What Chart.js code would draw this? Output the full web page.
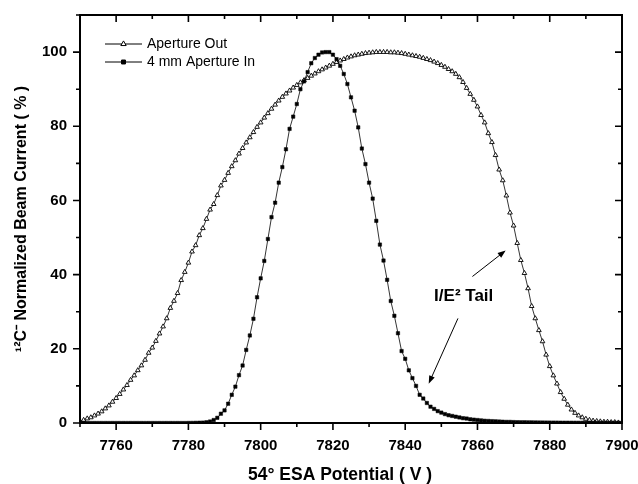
<!DOCTYPE html>
<html><head><meta charset="utf-8">
<script src="https://cdn.jsdelivr.net/npm/chart.js@4/dist/chart.umd.min.js"></script>
<style>html,body{margin:0;padding:0;background:#fff;}canvas{display:block;}</style>
</head><body>
<canvas id="c" width="638" height="484"></canvas>
<script>
// ESA potential (V)
const voltages = [
7750,7751,7752,7753,7754,7755,7756,7757,7758,7759,
7760,7761,7762,7763,7764,7765,7766,7767,7768,7769,
7770,7771,7772,7773,7774,7775,7776,7777,7778,7779,
7780,7781,7782,7783,7784,7785,7786,7787,7788,7789,
7790,7791,7792,7793,7794,7795,7796,7797,7798,7799,
7800,7801,7802,7803,7804,7805,7806,7807,7808,7809,
7810,7811,7812,7813,7814,7815,7816,7817,7818,7819,
7820,7821,7822,7823,7824,7825,7826,7827,7828,7829,
7830,7831,7832,7833,7834,7835,7836,7837,7838,7839,
7840,7841,7842,7843,7844,7845,7846,7847,7848,7849,
7850,7851,7852,7853,7854,7855,7856,7857,7858,7859,
7860,7861,7862,7863,7864,7865,7866,7867,7868,7869,
7870,7871,7872,7873,7874,7875,7876,7877,7878,7879,
7880,7881,7882,7883,7884,7885,7886,7887,7888,7889,
7890,7891,7892,7893,7894,7895,7896,7897,7898,7899,
7900];
// Aperture Out (%)
const apertureOut = [
0.5,0.8,1.2,1.5,2.0,2.5,3.1,3.9,4.7,5.7,
6.7,7.8,9.0,10.2,11.6,12.8,14.2,15.5,17.0,18.9,
20.3,22.1,24.1,26.0,28.2,31.0,32.9,35.0,38.5,40.7,
43.2,46.2,47.9,50.6,52.5,55.0,57.5,59.0,61.4,64.0,
65.5,67.4,69.2,70.8,72.6,74.1,75.6,77.0,78.4,79.8,
81.0,82.3,83.5,84.7,85.8,86.9,87.9,88.8,89.6,90.4,
91.1,91.8,92.4,93.0,93.6,94.2,94.8,95.3,95.8,96.3,
96.8,97.3,97.7,98.1,98.5,98.8,99.1,99.3,99.5,99.7,
99.8,99.9,100.0,100.0,100.0,100.0,99.9,99.9,99.8,99.7,
99.5,99.3,99.1,98.9,98.7,98.4,98.1,97.8,97.4,97.0,
96.5,96.0,95.4,94.8,94.1,93.2,91.9,90.3,88.7,87.1,
85.3,83.0,81.0,78.1,75.7,72.2,68.3,65.4,61.3,56.7,
53.2,48.5,43.9,40.4,36.3,31.5,28.2,25.0,22.0,18.4,
15.3,12.8,10.6,8.3,6.5,4.9,3.6,2.7,2.0,1.5,
1.1,0.8,0.6,0.5,0.4,0.3,0.3,0.2,0.2,0.1,
0.1];
// 4 mm Aperture In (%)
const apertureIn4mm = [
0,0,0,0,0,0,0,0,0,0,
0,0,0,0,0,0,0,0,0,0,
0,0,0,0,0,0,0,0,0,0,
0.02,0.03,0.05,0.08,0.1,0.2,0.4,0.8,1.4,2.5,
3.4,5.2,7.6,9.8,12.9,15.5,19.7,23.6,28.1,33.9,
39.0,43.7,49.6,55.5,59.4,64.8,69.0,73.8,79.3,82.6,
86.0,90.0,92.1,94.6,97.0,98.4,99.3,99.9,100.0,100.0,
99.3,98.1,96.3,94.1,91.4,87.8,84.2,79.7,74.0,69.8,
64.8,60.5,54.5,48.1,43.8,38.6,32.9,28.9,24.2,19.4,
17.3,14.2,12.1,10.0,7.6,6.6,5.4,4.4,3.8,3.2,
2.8,2.4,2.1,1.9,1.7,1.5,1.3,1.2,1.0,0.9,
0.8,0.7,0.6,0.55,0.5,0.45,0.4,0.35,0.3,0.3,
0.25,0.22,0.2,0.2,0.18,0.17,0.15,0.14,0.13,0.12,
0.11,0.1,0.1,0.09,0.08,0.08,0.07,0.07,0.06,0.06,
0.05,0.05,0.05,0.04,0.04,0.04,0.03,0.03,0.03,0.03,
0.02];
const xTickLabels = [7760,7780,7800,7820,7840,7860,7880,7900];
const yTickLabels = [0,20,40,60,80,100];
const seriesLabels = ['Aperture Out','4 mm Aperture In'];
const xTitle = '54° ESA Potential ( V )';
const yTitle = '¹²C⁻ Normalized Beam Current ( % )';
const annotationText = 'I/E² Tail';

const FONT = '"Liberation Sans", Arial, Helvetica, sans-serif';
Chart.defaults.font.family = FONT;
Chart.defaults.color = '#000';

// annotation anchors in data units
const annot = {
  text: {x: 7848.0, y: 33.0},
  arrows: [
    {from: {x: 7858.6, y: 39.5}, to: {x: 7867.8, y: 46.5}},
    {from: {x: 7854.6, y: 28.2}, to: {x: 7846.5, y: 10.6}}
  ]
};

const framePlugin = {
  id: 'frame',
  afterDatasetsDraw(chart) {
    const {ctx, chartArea: a, scales: {x, y}} = chart;
    ctx.save();
    ctx.strokeStyle = '#000';
    ctx.fillStyle = '#000';
    // ticks
    ctx.lineWidth = 1.6;
    x.ticks.forEach(t => {
      const px = x.getPixelForValue(t.value);
      const len = xTickLabels.includes(t.value) ? 7 : 4;
      ctx.beginPath();
      ctx.moveTo(px, a.bottom); ctx.lineTo(px, a.bottom + len);
      ctx.moveTo(px, a.top); ctx.lineTo(px, a.top + len);
      ctx.stroke();
    });
    y.ticks.forEach(t => {
      const py = y.getPixelForValue(t.value);
      const len = yTickLabels.includes(t.value) ? 7 : 4;
      ctx.beginPath();
      ctx.moveTo(a.left - len, py); ctx.lineTo(a.left, py);
      ctx.moveTo(a.right - len, py); ctx.lineTo(a.right, py);
      ctx.stroke();
    });
    // frame
    ctx.lineWidth = 2;
    ctx.strokeRect(a.left, a.top, a.right - a.left, a.bottom - a.top);

    // x-axis title (slightly left of the plot centre, as in the original)
    ctx.font = 'bold 17.5px ' + FONT;
    ctx.textAlign = 'center';
    ctx.textBaseline = 'middle';
    ctx.fillText(xTitle, (a.left + a.right) / 2 - 11, 475);

    // legend
    const ds = chart.data.datasets;
    const order = [1, 0];
    ctx.font = '14px ' + FONT;
    ctx.textBaseline = 'middle';
    ctx.textAlign = 'left';
    order.forEach((di, row) => {
      const d = ds[di];
      const ly = a.top + 29 + row * 18;
      const lx0 = a.left + 25, lx1 = a.left + 62;
      ctx.lineWidth = 1;
      ctx.strokeStyle = '#000';
      ctx.beginPath(); ctx.moveTo(lx0, ly); ctx.lineTo(lx1, ly); ctx.stroke();
      ctx.fillStyle = d.pointBackgroundColor;
      ctx.strokeStyle = '#000';
      Chart.helpers.drawPoint(ctx, {pointStyle: d.pointStyle, radius: d.pointRadius + 0.4, borderWidth: d.pointBorderWidth}, (lx0 + lx1) / 2, ly);
      ctx.fillStyle = '#000';
      ctx.fillText(d.label, a.left + 67, ly + 0.5);
    });

    // annotation
    ctx.font = 'bold 17px ' + FONT;
    ctx.textBaseline = 'alphabetic';
    ctx.fillStyle = '#000';
    ctx.fillText(annotationText, x.getPixelForValue(annot.text.x), y.getPixelForValue(annot.text.y));
    ctx.lineWidth = 1;
    annot.arrows.forEach(ar => {
      const x1 = x.getPixelForValue(ar.from.x), y1 = y.getPixelForValue(ar.from.y);
      const x2 = x.getPixelForValue(ar.to.x), y2 = y.getPixelForValue(ar.to.y);
      const ang = Math.atan2(y2 - y1, x2 - x1), L = 8, W = 3;
      ctx.beginPath(); ctx.moveTo(x1, y1);
      ctx.lineTo(x2 - (L - 2) * Math.cos(ang), y2 - (L - 2) * Math.sin(ang)); ctx.stroke();
      ctx.beginPath();
      ctx.moveTo(x2, y2);
      ctx.lineTo(x2 - L * Math.cos(ang) + W * Math.sin(ang), y2 - L * Math.sin(ang) - W * Math.cos(ang));
      ctx.lineTo(x2 - L * Math.cos(ang) - W * Math.sin(ang), y2 - L * Math.sin(ang) + W * Math.cos(ang));
      ctx.closePath(); ctx.fill();
    });
    ctx.restore();
  }
};

new Chart(document.getElementById('c'), {
  type: 'line',
  data: {
    datasets: [
      {
        label: seriesLabels[1],
        data: voltages.map((v, i) => ({x: v, y: apertureIn4mm[i]})),
        borderColor: '#000', borderWidth: 0.8,
        pointStyle: 'rect', pointRadius: 2.4,
        pointBackgroundColor: '#000', pointBorderColor: '#000', pointBorderWidth: 0.5,
        tension: 0, fill: false, order: 0
      },
      {
        label: seriesLabels[0],
        data: voltages.map((v, i) => ({x: v, y: apertureOut[i]})),
        borderColor: '#000', borderWidth: 0.8,
        pointStyle: 'triangle', pointRadius: 2.7,
        pointBackgroundColor: '#fff', pointBorderColor: '#000', pointBorderWidth: 0.9,
        tension: 0, fill: false, order: 1
      }
    ]
  },
  options: {
    responsive: false, animation: false, devicePixelRatio: 1, events: [],
    layout: {padding: {top: 15, right: 16, left: 0, bottom: 0}},
    plugins: {legend: {display: false}, tooltip: {enabled: false}},
    scales: {
      x: {
        type: 'linear', min: 7750, max: 7900,
        grid: {display: false, drawTicks: false}, border: {display: false},
        ticks: {
          stepSize: 10, autoSkip: false, maxRotation: 0, minRotation: 0, padding: 14,
          font: {size: 15, weight: 'bold'}, color: '#000',
          callback: v => xTickLabels.includes(v) ? String(v) : ''
        },
        title: {display: false},
        afterFit(s) { s.height = 61; s.paddingLeft = 0; s.paddingRight = 0; }
      },
      y: {
        type: 'linear', min: 0, max: 110,
        grid: {display: false, drawTicks: false}, border: {display: false},
        ticks: {
          stepSize: 10, autoSkip: false, padding: 13,
          font: {size: 15, weight: 'bold'}, color: '#000',
          callback: v => yTickLabels.includes(v) ? String(v) : ''
        },
        title: {display: true, text: yTitle, color: '#000',
          font: {size: 16, weight: 'bold', lineHeight: 1}, padding: {top: 14, bottom: 0}},
        afterFit(s) { s.width = 80; s.paddingTop = 0; s.paddingBottom = 0; }
      }
    }
  },
  plugins: [framePlugin]
});
</script>
</body></html>
